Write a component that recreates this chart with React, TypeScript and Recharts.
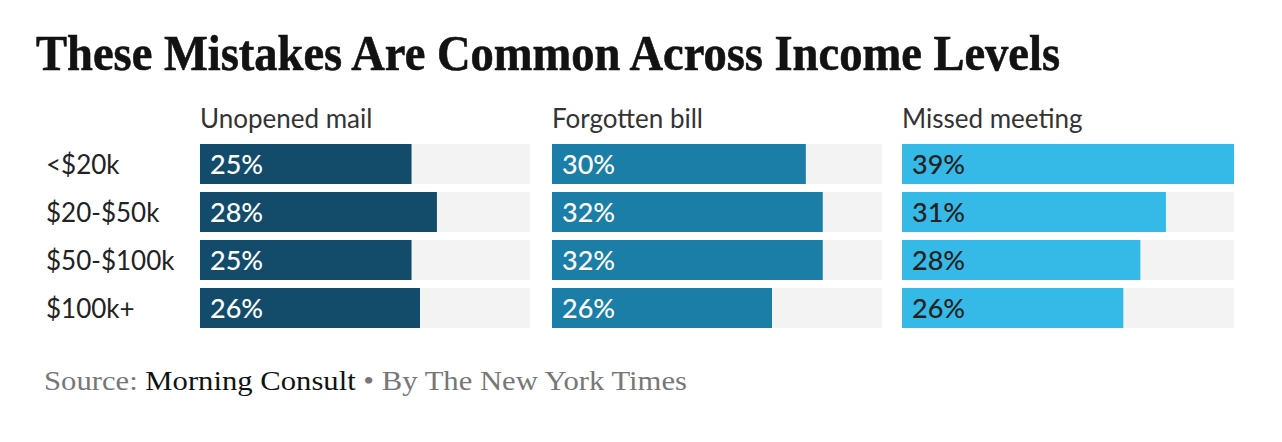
import { BarChart, Bar, XAxis, YAxis, LabelList } from "recharts";

const groups = ["<$20k", "$20-$50k", "$50-$100k", "$100k+"];
const panelTitles = ["Unopened mail", "Forgotten bill", "Missed meeting"];
const unopenedMail = [25, 28, 25, 26];
const forgottenBill = [30, 32, 32, 26];
const missedMeeting = [39, 31, 28, 26];

const SANS = "Lato, 'Noto Sans', sans-serif";
const SERIF = "'Liberation Serif', 'DejaVu Serif', serif";

const panels = [
  { title: panelTitles[0], values: unopenedMail, color: "#134b6b", text: "#ffffff", left: 0, width: 530, axis: 200 },
  { title: panelTitles[1], values: forgottenBill, color: "#1b7ea7", text: "#ffffff", left: 552, width: 330, axis: 0 },
  { title: panelTitles[2], values: missedMeeting, color: "#35b9e6", text: "#222222", left: 902, width: 332, axis: 0 },
];

function GroupTick(props: any) {
  const { y, payload } = props;
  return (
    <text x={46} y={y} dy={10} fontSize={26} fill="#222" fontFamily={SANS} textAnchor="start">
      {payload.value}
    </text>
  );
}

function Panel({ p }: { p: (typeof panels)[number] }) {
  const data = groups.map((g, i) => ({ group: g, value: p.values[i] }));
  return (
    <div style={{ position: "absolute", left: p.left, top: 140 }}>
      <BarChart
        width={p.width}
        height={192}
        data={data}
        layout="vertical"
        margin={{ top: 0, right: 0, bottom: 0, left: 0 }}
        barSize={40}
      >
        <XAxis type="number" domain={[0, 39]} hide />
        <YAxis
          type="category"
          dataKey="group"
          width={p.axis}
          hide={p.axis === 0}
          axisLine={false}
          tickLine={false}
          tick={<GroupTick />}
        />
        <Bar dataKey="value" fill={p.color} background={{ fill: "#f3f3f3" }} isAnimationActive={false}>
          <LabelList
            dataKey="value"
            position="insideLeft"
            offset={10}
            formatter={(v: any) => `${v}%`}
            fill={p.text}
            fontSize={27}
            fontFamily={SANS}
            fontWeight={500}
          />
        </Bar>
      </BarChart>
    </div>
  );
}

export default function App() {
  return (
    <div style={{ position: "absolute", left: 0, top: 0, width: 1282, height: 442, background: "#fff" }}>
      <svg width={1282} height={100} style={{ position: "absolute", left: 0, top: 0 }}>
        <text
          x={36}
          y={70}
          fontFamily={SERIF}
          fontWeight={700}
          fontSize={50}
          fill="#121212"
          stroke="#121212"
          strokeWidth={0.6}
          textLength={1024}
          lengthAdjust="spacingAndGlyphs"
        >
          These Mistakes Are Common Across Income Levels
        </text>
      </svg>
      {panels.map((p, i) => (
        <div
          key={p.title}
          style={{
            position: "absolute",
            left: i === 0 ? 200 : p.left,
            top: 102,
            fontFamily: SANS,
            fontSize: 26,
            color: "#333",
            lineHeight: "32px",
            whiteSpace: "nowrap",
          }}
        >
          {p.title}
        </div>
      ))}
      {panels.map((p) => (
        <Panel key={p.title} p={p} />
      ))}
      <svg width={1282} height={60} style={{ position: "absolute", left: 0, top: 355 }}>
        <text x={44} y={35} fontFamily={SERIF} fontSize={28} fill="#777" textLength={643} lengthAdjust="spacingAndGlyphs">
          Source: <tspan fill="#121212">Morning Consult</tspan> • By The New York Times
        </text>
      </svg>
    </div>
  );
}
